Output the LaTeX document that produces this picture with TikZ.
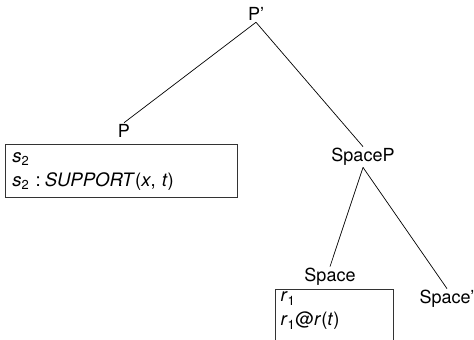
\documentclass[tikz,border=0pt]{standalone}
\usepackage{fontspec}
\setmainfont{TeX Gyre Heros}
\begin{document}
\begin{tikzpicture}[x=1pt,y=-1pt,
  lbl/.style={font=\fontsize{18}{21}\selectfont, inner sep=1.5pt},
  fbox/.style={draw, line width=1pt, draw=black!80, font=\fontsize{18.5}{24}\selectfont, align=left, anchor=north west, inner ysep=2.5pt},
  edge/.style={line width=0.7pt}]
\useasboundingbox (0,0) rectangle (474,340);
\node[lbl] (pp) at (256,14) {P’};
\node[lbl] (p) at (124,131) {P};
\node[lbl] (sp) at (363,157) {SpaceP};
\node[lbl] (s) at (330,277) {Space};
\node[lbl] (sq) at (447,299) {Space’};
\node[fbox, inner xsep=7pt, minimum width=232pt, minimum height=53pt, text width=218pt] (pbox) at (5,144)
  {\textit{s}\textsubscript{2}\\ \textit{s}\textsubscript{2} :\kern4pt\textit{SUPPORT}(\textit{x}, \textit{t})};
\node[fbox, inner xsep=5pt, minimum width=118pt, minimum height=70pt, text width=108pt] (sbox) at (275,289)
  {\textit{r}\textsubscript{1}\\ \textit{r}\textsubscript{1}@\textit{r}(\textit{t})\\ \strut};
\draw[edge] (pp.south) -- (p.north);
\draw[edge] (pp.south) -- (sp.north);
\draw[edge] (sp.south) -- (s.north);
\draw[edge] (sp.south) -- (sq.north);
\end{tikzpicture}
\end{document}
